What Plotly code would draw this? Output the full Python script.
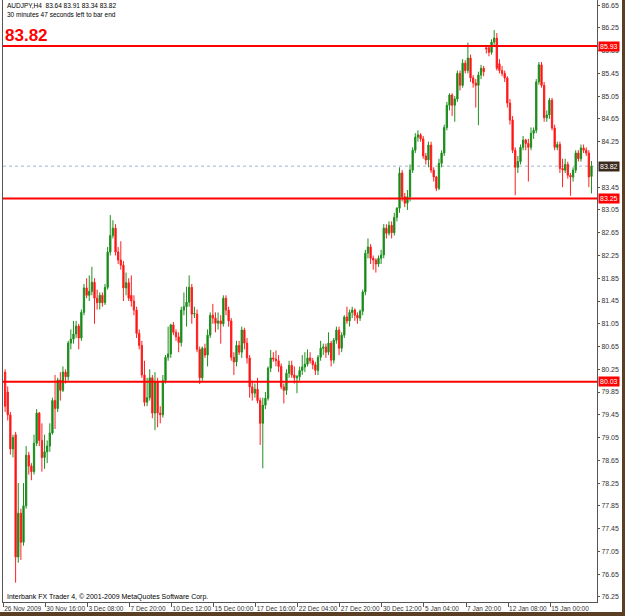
import plotly.graph_objects as go

# ---------------- data (AUDJPY H4) ----------------
opens = [80.20, 79.85, 79.45, 78.85, 79.10, 76.95, 77.72, 77.21, 77.85, 78.74,
         78.55, 78.45, 78.95, 79.48, 79.00, 78.70, 78.80, 78.90, 79.13, 79.70,
         79.56, 80.06, 79.88, 80.20, 80.12, 80.71, 80.78, 80.87, 81.01, 80.80,
         81.25, 81.68, 81.55, 81.62, 81.78, 81.50, 81.42, 81.55, 81.42, 81.69,
         82.31, 82.60, 82.73, 82.31, 82.17, 82.08, 81.68, 81.77, 81.55, 81.45,
         81.29, 80.88, 80.67, 80.15, 79.67, 79.75, 80.10, 79.48, 80.02, 79.48,
         79.45, 80.05, 80.46, 80.52, 81.03, 80.90, 80.82, 80.72, 81.29, 81.35,
         81.43, 81.69, 81.22, 81.22, 80.60, 80.10, 80.62, 80.50, 80.85, 81.20,
         81.15, 81.06, 81.10, 81.05, 81.50, 81.29, 81.10, 80.46, 80.38, 80.67,
         80.55, 80.94, 80.71, 80.45, 79.94, 79.83, 79.90, 79.70, 79.30, 79.62,
         79.74, 80.27, 80.45, 80.43, 80.40, 80.30, 79.94, 79.88, 80.18, 80.32,
         80.15, 80.10, 80.12, 80.23, 80.29, 80.34, 80.45, 80.40, 80.33, 80.23,
         80.46, 80.62, 80.64, 80.55, 80.71, 80.41, 80.76, 80.94, 80.62, 80.85,
         81.17, 81.10, 81.25, 81.29, 81.20, 81.15, 81.27, 81.61, 82.29, 82.40,
         82.20, 82.17, 82.10, 82.20, 82.26, 82.73, 82.64, 82.78, 82.65, 82.92,
         83.08, 83.70, 83.28, 83.17, 83.28, 83.75, 84.10, 84.33, 84.37, 84.30,
         84.00, 83.93, 84.19, 83.75, 83.63, 83.43, 83.87, 84.05, 84.50, 84.89,
         85.07, 84.89, 85.00, 85.45, 85.24, 85.63, 85.50, 85.72, 85.37, 85.28,
         85.24, 85.42, 85.54, 85.90, 85.90, 85.82, 86.00, 86.07, 85.62, 85.50,
         85.45, 85.37, 84.93, 84.63, 84.10, 83.80, 83.90, 84.15, 84.28, 84.22,
         84.15, 84.40, 84.45, 85.30, 85.60, 85.24, 84.67, 84.72, 84.98, 84.49,
         84.15, 84.20, 83.78, 83.75, 83.85, 83.66, 83.63, 83.75, 84.05, 83.95,
         84.14, 84.10, 84.05, 83.64]

highs = [80.25, 79.95, 79.50, 79.10, 79.15, 78.25, 77.80, 78.25, 78.90, 78.80,
         78.60, 79.10, 79.55, 79.50, 79.30, 79.10, 79.00, 79.30, 79.75, 80.15,
         80.10, 80.20, 80.30, 80.25, 80.75, 80.95, 81.10, 81.10, 81.05, 81.30,
         81.75, 81.85, 81.90, 82.05, 81.85, 81.65, 81.60, 81.60, 81.75, 82.40,
         82.96, 82.87, 82.80, 82.40, 82.50, 82.15, 81.95, 81.85, 81.90, 81.55,
         81.35, 80.95, 80.75, 80.40, 80.10, 80.25, 80.15, 80.20, 80.10, 79.60,
         80.15, 80.50, 81.00, 81.05, 81.08, 80.95, 80.90, 81.35, 81.60, 81.70,
         81.90, 81.75, 81.35, 81.30, 80.65, 80.65, 80.70, 80.95, 81.25, 81.40,
         81.25, 81.25, 81.20, 81.55, 81.55, 81.35, 81.15, 80.55, 80.75, 80.75,
         81.00, 80.98, 80.80, 80.50, 80.05, 80.00, 80.10, 79.75, 79.75, 79.85,
         80.30, 80.59, 80.55, 80.58, 80.50, 80.35, 80.00, 80.25, 80.40, 80.40,
         80.30, 80.15, 80.30, 80.50, 80.55, 80.60, 80.55, 80.45, 80.38, 80.50,
         80.75, 80.70, 80.70, 80.90, 80.75, 80.80, 81.00, 81.00, 80.90, 81.20,
         81.35, 81.30, 81.35, 81.32, 81.25, 81.30, 81.65, 82.35, 82.55, 82.45,
         82.25, 82.20, 82.25, 82.35, 82.80, 82.80, 82.85, 82.85, 83.00, 83.10,
         83.80, 83.75, 83.35, 83.40, 83.85, 84.15, 84.40, 84.45, 84.40, 84.35,
         84.05, 84.25, 84.25, 83.80, 83.65, 83.95, 84.10, 84.55, 84.95, 85.10,
         85.10, 85.05, 85.50, 85.50, 85.70, 85.68, 85.99, 85.78, 85.42, 85.35,
         85.48, 85.60, 85.58, 85.95, 85.95, 86.05, 86.21, 86.16, 85.70, 85.58,
         85.50, 85.40, 85.00, 84.70, 84.15, 84.00, 84.20, 84.35, 84.30, 84.30,
         84.50, 84.50, 85.35, 85.65, 85.65, 85.30, 84.80, 85.02, 85.02, 84.55,
         84.25, 84.25, 83.95, 83.95, 83.90, 83.70, 83.80, 84.10, 84.10, 84.20,
         84.20, 84.15, 84.10, 83.91]

lows = [79.50, 79.35, 78.75, 78.70, 76.50, 76.85, 76.90, 77.15, 77.80, 78.40,
        78.30, 78.40, 78.90, 78.90, 78.45, 78.50, 78.60, 78.80, 79.10, 79.20,
        79.50, 79.70, 79.85, 80.00, 80.05, 80.60, 80.70, 80.80, 80.60, 80.75,
        81.20, 81.50, 81.45, 81.55, 81.05, 81.30, 81.30, 81.35, 81.38, 81.65,
        82.25, 82.55, 82.25, 82.10, 82.00, 81.45, 81.55, 81.45, 81.35, 81.20,
        80.80, 80.60, 80.10, 79.60, 79.60, 79.70, 79.39, 79.18, 79.23, 79.30,
        79.40, 80.00, 80.40, 80.45, 80.85, 80.75, 80.55, 80.65, 81.20, 81.00,
        81.35, 81.05, 81.15, 80.55, 79.99, 80.05, 80.45, 80.30, 80.80, 81.05,
        80.90, 80.95, 80.70, 81.00, 81.20, 81.00, 80.40, 80.15, 80.30, 80.50,
        80.45, 80.60, 80.35, 79.75, 79.70, 79.75, 79.65, 78.92, 78.51, 79.55,
        79.70, 80.20, 80.38, 80.30, 80.20, 79.90, 79.65, 79.80, 80.10, 80.10,
        80.00, 79.83, 80.05, 80.15, 80.20, 80.30, 80.35, 80.25, 80.15, 80.15,
        80.40, 80.50, 80.45, 80.50, 80.30, 80.35, 80.70, 80.50, 80.55, 80.80,
        81.05, 81.00, 81.15, 81.10, 81.05, 81.10, 81.20, 81.55, 82.20, 82.10,
        82.00, 81.95, 82.05, 82.10, 82.20, 82.55, 82.60, 82.55, 82.60, 82.85,
        83.00, 83.20, 83.10, 83.05, 83.20, 83.70, 84.05, 84.25, 84.25, 83.95,
        83.85, 83.80, 83.70, 83.55, 83.38, 83.40, 83.80, 84.00, 84.45, 84.80,
        84.70, 84.60, 84.95, 85.15, 85.20, 85.45, 85.45, 85.30, 85.20, 84.85,
        84.54, 85.35, 85.40, 85.80, 85.75, 85.78, 85.95, 85.50, 85.45, 85.40,
        85.30, 84.85, 84.55, 84.05, 83.31, 83.70, 83.85, 84.10, 84.10, 83.55,
        84.10, 84.30, 84.40, 85.25, 85.20, 84.60, 84.60, 84.65, 84.45, 84.10,
        84.10, 83.70, 83.45, 83.70, 83.60, 83.30, 83.55, 83.70, 83.90, 83.90,
        84.05, 84.00, 83.45, 83.34]

closes = [79.60, 79.45, 78.85, 79.05, 76.95, 77.72, 77.21, 77.85, 78.74, 78.55,
          78.45, 78.95, 79.48, 79.00, 78.70, 78.80, 78.90, 79.13, 79.70, 79.56,
          80.06, 79.88, 80.20, 80.12, 80.71, 80.78, 80.87, 81.01, 80.80, 81.25,
          81.68, 81.55, 81.62, 81.78, 81.50, 81.42, 81.55, 81.42, 81.69, 82.31,
          82.60, 82.73, 82.31, 82.17, 82.08, 81.68, 81.77, 81.50, 81.45, 81.29,
          80.88, 80.67, 80.15, 79.67, 79.75, 80.10, 79.48, 80.02, 79.48, 79.45,
          80.05, 80.46, 80.52, 81.03, 80.90, 80.82, 80.72, 81.29, 81.35, 81.43,
          81.69, 81.22, 81.23, 80.60, 80.10, 80.62, 80.50, 80.85, 81.20, 81.15,
          81.06, 81.10, 81.05, 81.50, 81.29, 81.10, 80.46, 80.38, 80.67, 80.55,
          80.94, 80.71, 80.45, 79.94, 79.83, 79.90, 79.70, 79.30, 79.62, 79.74,
          80.27, 80.45, 80.43, 80.40, 80.30, 79.94, 79.88, 80.18, 80.32, 80.15,
          80.10, 80.12, 80.23, 80.29, 80.34, 80.45, 80.40, 80.33, 80.23, 80.46,
          80.62, 80.64, 80.55, 80.71, 80.41, 80.76, 80.94, 80.62, 80.85, 81.17,
          81.10, 81.25, 81.29, 81.20, 81.15, 81.27, 81.61, 82.29, 82.40, 82.20,
          82.17, 82.10, 82.20, 82.26, 82.73, 82.64, 82.78, 82.65, 82.92, 83.08,
          83.70, 83.28, 83.17, 83.28, 83.75, 84.10, 84.33, 84.37, 84.30, 84.00,
          83.93, 84.19, 83.75, 83.63, 83.43, 83.87, 84.05, 84.50, 84.89, 85.07,
          84.89, 85.00, 85.45, 85.24, 85.63, 85.50, 85.72, 85.37, 85.28, 85.24,
          85.42, 85.54, 85.48, 85.88, 85.82, 86.00, 86.07, 85.54, 85.50, 85.45,
          85.37, 84.93, 84.63, 84.10, 83.80, 83.90, 84.15, 84.28, 84.22, 84.15,
          84.40, 84.45, 85.30, 85.60, 85.24, 84.67, 84.72, 84.98, 84.49, 84.15,
          84.20, 83.78, 83.75, 83.85, 83.66, 83.63, 83.75, 84.05, 83.95, 84.14,
          84.10, 84.05, 83.63, 83.82]

bars = list(range(len(closes)))

# x-axis labels (every 16 H4 bars)
label_bars = [0, 16, 32, 48, 64, 80, 96, 112, 128, 144, 160, 176, 192, 208]
label_text = ["26 Nov 2009", "30 Nov 16:00", "3 Dec 08:00", "7 Dec 20:00",
              "10 Dec 12:00", "15 Dec 00:00", "17 Dec 16:00", "22 Dec 04:00",
              "27 Dec 20:00", "30 Dec 12:00", "5 Jan 04:00", "7 Jan 20:00",
              "12 Jan 08:00", "15 Jan 00:00"]

# right price-scale labels (83.85 is hidden behind the bid box in the original)
price_ticks = [76.25, 76.65, 77.05, 77.45, 77.85, 78.25, 78.65, 79.05, 79.45,
               79.85, 80.25, 80.65, 81.05, 81.45, 81.85, 82.25, 82.65, 83.05,
               83.45, 84.25, 84.65, 85.05, 85.45, 85.85, 86.25, 86.65]

# horizontal levels and current bid
levels = [85.93, 83.25, 80.03]
bid = 83.82

header_1 = "AUDJPY,H4  83.64 83.91 83.34 83.82"
header_2 = "30 minutes 47 seconds left to bar end"
copyright_text = "Interbank FX Trader 4, \u00a9 2001-2009 MetaQuotes Software Corp."

# ---------------- figure ----------------
FONT = "Liberation Sans"
W, H = 625, 616
ML, MR, MT, MB = 3, 28, 0, 14
plot_h = H - MT - MB
plot_w = W - ML - MR

fig = go.Figure()

fig.add_trace(go.Candlestick(
    x=bars, open=opens, high=highs, low=lows, close=closes,
    increasing=dict(line=dict(color="#1e8f1e", width=1), fillcolor="#0d800d"),
    decreasing=dict(line=dict(color="#ff2020", width=1), fillcolor="#ff0000"),
    whiskerwidth=0,
    showlegend=False, hoverinfo="skip",
))

shapes = []
for lv in levels:
    shapes.append(dict(type="line", xref="paper", x0=0, x1=1, yref="y", y0=lv, y1=lv,
                       line=dict(color="#ff0000", width=2), layer="above"))
shapes.append(dict(type="line", xref="paper", x0=0, x1=1, yref="y", y0=bid, y1=bid,
                   line=dict(color="#9fb3d1", width=1, dash="dot"), layer="below"))
# outer brown frame (right and bottom)
shapes.append(dict(type="rect", xref="paper", yref="paper",
                   x0=(622 - ML) / plot_w, x1=(W + 5 - ML) / plot_w,
                   y0=-(H + 5 - plot_h) / plot_h, y1=1.02,
                   fillcolor="#5a3f24", line=dict(width=0), layer="above"))
shapes.append(dict(type="rect", xref="paper", yref="paper",
                   x0=-0.02, x1=(W + 5 - ML) / plot_w,
                   y0=-(H + 5 - plot_h) / plot_h, y1=-(612 - plot_h) / plot_h,
                   fillcolor="#5a3f24", line=dict(width=0), layer="above"))

annotations = []
for lv in levels:
    annotations.append(dict(xref="paper", x=1, xanchor="left", xshift=1,
                            yref="y", y=lv, yanchor="middle",
                            text=f"{lv:.2f}", showarrow=False,
                            font=dict(family=FONT, size=7, color="white"),
                            bgcolor="#ff0000", borderpad=1))
annotations.append(dict(xref="paper", x=1, xanchor="left", xshift=1,
                        yref="y", y=bid, yanchor="middle",
                        text=f"{bid:.2f}", showarrow=False,
                        font=dict(family=FONT, size=7, color="white"),
                        bgcolor="#3b2a1c", borderpad=1))
# header texts
annotations.append(dict(xref="paper", x=0, xanchor="left", xshift=2,
                        yref="paper", y=1 - 6 / plot_h, yanchor="middle",
                        text=header_1, showarrow=False,
                        font=dict(family=FONT, size=6.5, color="#000000")))
annotations.append(dict(xref="paper", x=0, xanchor="left", xshift=2,
                        yref="paper", y=1 - 15 / plot_h, yanchor="middle",
                        text=header_2, showarrow=False,
                        font=dict(family=FONT, size=6.5, color="#000000")))
annotations.append(dict(xref="paper", x=0, xanchor="left", xshift=0,
                        yref="y", y=levels[0], yanchor="bottom", yshift=-1,
                        text=f"<b>{bid:.2f}</b>", showarrow=False,
                        font=dict(family=FONT, size=17, color="#ff0000")))
annotations.append(dict(xref="paper", x=0, xanchor="left", xshift=2,
                        yref="paper", y=(plot_h - 597) / plot_h, yanchor="middle",
                        text=copyright_text, showarrow=False,
                        font=dict(family=FONT, size=7, color="#000000")))

fig.update_layout(
    width=W, height=H,
    margin=dict(l=ML, r=MR, t=MT, b=MB, pad=0, autoexpand=False),
    paper_bgcolor="white", plot_bgcolor="white",
    showlegend=False,
    shapes=shapes, annotations=annotations,
    xaxis=dict(
        range=[-0.8, 225.1], rangeslider=dict(visible=False),
        showgrid=False, zeroline=False, automargin=False,
        showline=True, linecolor="#555555", linewidth=1,
        tickmode="array", tickvals=[b - 0.7 for b in label_bars], ticktext=label_text,
        ticks="outside", ticklen=4, tickcolor="#555555", tickangle=0,
        ticklabelposition="outside right", ticklabelstandoff=0,
        tickfont=dict(family=FONT, size=6.5, color="#333333"),
    ),
    yaxis=dict(
        side="right", range=[76.16, 86.74],
        showgrid=False, zeroline=False, automargin=False,
        showline=True, linecolor="#555555", linewidth=1, mirror=True,
        tickmode="array", tickvals=price_ticks, ticktext=[f"{v:.2f}" for v in price_ticks],
        ticks="outside", ticklen=2, tickcolor="#555555",
        tickfont=dict(family=FONT, size=7, color="#333333"),
    ),
)

fig.write_html("out.html")
